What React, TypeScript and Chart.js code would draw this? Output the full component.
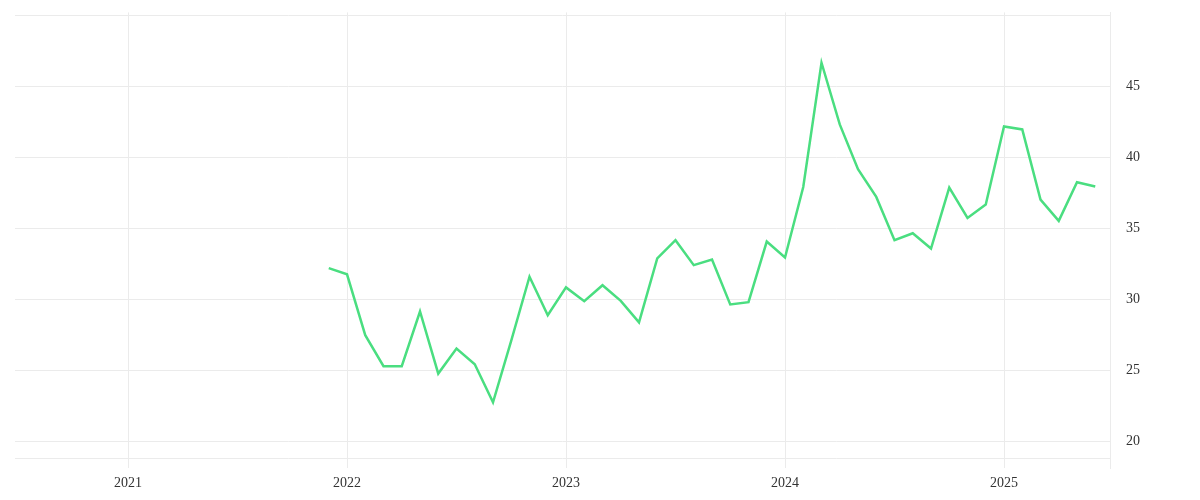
import React, { useEffect, useRef } from "react";
import { Chart, registerables } from "chart.js";

Chart.register(...registerables);

// Monthly observations, Dec 2021 .. Jun 2025
const startYear = 2021;
const startMonth = 11; // 0-based month index (December)
const values: number[] = [
  32.21,
  31.77, 27.48, 25.29, 25.29, 29.15, 24.77, 26.54, 25.43, 22.74, 27.1, 31.6, 28.89,
  30.85, 29.88, 31.0, 29.9, 28.38, 32.89, 34.18, 32.42, 32.82, 29.65, 29.81, 34.08,
  32.96, 37.93, 46.69, 42.34, 39.18, 37.23, 34.18, 34.67, 33.59, 37.89, 35.75, 36.69,
  42.2, 41.99, 37.04, 35.54, 38.26, 37.96,
];
const yearTicks: number[] = [2021, 2022, 2023, 2024, 2025];
const yTicks: number[] = [18.78, 20, 25, 30, 35, 40, 45, 50];
const yLabelled: number[] = [20, 25, 30, 35, 40, 45];

const points = values.map((v, i) => ({
  x: startYear + (startMonth + i) / 12,
  y: v,
}));

const GRID = "#ebebeb";

export default function App() {
  const ref = useRef<HTMLCanvasElement>(null);
  useEffect(() => {
    if (!ref.current) return;
    const chart = new Chart(ref.current, {
      type: "line",
      data: {
        datasets: [
          {
            data: points,
            borderColor: "#4ade80",
            borderWidth: 2.5,
            pointRadius: 0,
            tension: 0,
            fill: false,
          },
        ],
      },
      options: {
        animation: false,
        responsive: false,
        layout: { padding: { left: 7, top: 0, right: 36, bottom: 0 } },
        plugins: { legend: { display: false }, tooltip: { enabled: false } },
        scales: {
          x: {
            type: "linear",
            min: 2020.484,
            max: 2025.484,
            afterBuildTicks: (axis: any) => {
              axis.ticks = yearTicks.map((v) => ({ value: v }));
            },
            grid: { color: GRID, drawTicks: false },
            border: { display: false },
            ticks: {
              padding: 7,
              color: "#333",
              font: { family: "Liberation Serif", size: 14 },
              callback: (v: any) => String(v),
              maxRotation: 0,
            },
          },
          y: {
            position: "right",
            min: 18.1,
            max: 50.24,
            afterBuildTicks: (axis: any) => {
              axis.ticks = yTicks.map((v) => ({ value: v }));
            },
            grid: { color: GRID, drawTicks: false },
            border: { display: true, color: GRID },
            ticks: {
              padding: 16,
              color: "#333",
              crossAlign: "near",
              font: { family: "Liberation Serif", size: 14 },
              callback: (v: any) => (yLabelled.includes(Number(v)) ? String(v) : ""),
            },
          },
        },
      },
    });
    return () => chart.destroy();
  }, []);
  return (
    <div style={{ position: "relative", width: 1184, height: 484, overflow: "hidden" }}>
      <canvas
        ref={ref}
        width={1184}
        height={511}
        style={{ position: "absolute", left: 0, top: -20 }}
      />
    </div>
  );
}
